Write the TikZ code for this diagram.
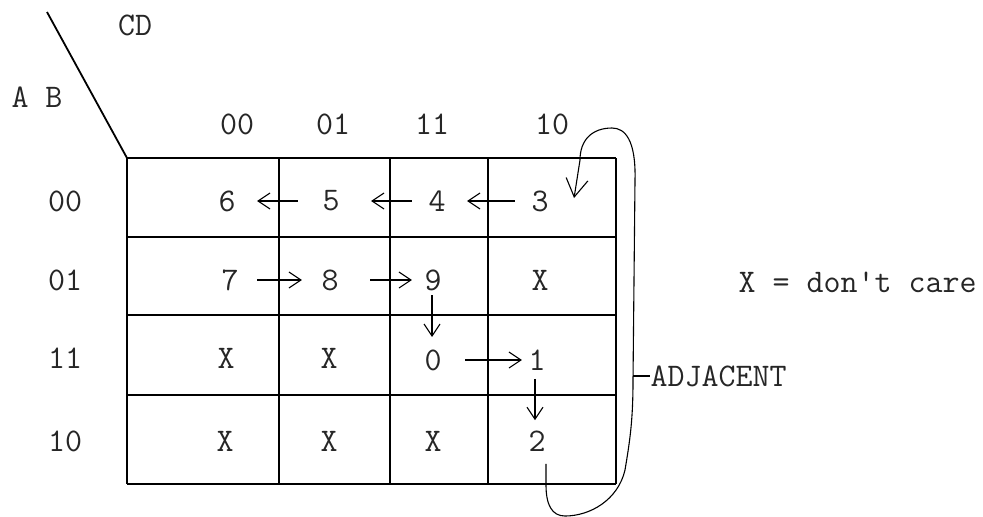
\documentclass[tikz,border=0pt]{standalone}
\usetikzlibrary{arrows.meta}

\begin{document}
\begin{tikzpicture}[x=0.5pt,y=-0.5pt,line width=0.55pt,>={Straight Barb[length=6pt,width=8pt]},
  every node/.style={font=\fontsize{16.5}{18}\selectfont\ttfamily,text=black!85,inner sep=0pt},
  gridline/.style={line width=1pt},
  flow/.style={->,shorten <=9pt,shorten >=10pt},
  drop/.style={->,shorten <=2pt,shorten >=6pt}]
\useasboundingbox (0,0) rectangle (983,516);
% ---- map frame and corner labels ----
\foreach \x in {127,279,390,488,616}{
  \draw[gridline] (\x,158) -- (\x,484);
}
\foreach \y in {158,237,315,395,484}{
  \draw[gridline] (127,\y) -- (616,\y);
}
\coordinate (corner) at (127,158);
\coordinate (slash) at (47,12);
\draw[line width=0.9pt] (slash) -- (corner);
\node (cd) at (135,25) {CD};
\node (ab) at (37,97) {A B};
\foreach \lab/\x in {00/237,01/333,11/432,10/552}{
  \node (c\lab) at (\x,124) {\lab};
}
\foreach \lab/\y in {00/201,01/280,11/358,10/441}{
  \node (r\lab) at (65,\y) {\lab};
}
% ---- cell entries ----
\node (n6) at (227,201) {6};
\node (n5) at (331,201) {5};
\node (n4) at (437,201) {4};
\node (n3) at (540,201) {3};
\node (n7) at (230,280) {7};
\node (n8) at (330,280) {8};
\node (n9) at (433,280) {9};
\node (x1) at (540,280) {X};
\node (x2) at (226,358) {X};
\node (x3) at (329,358) {X};
\node (n0) at (433,360) {0};
\node (n1) at (537,360) {1};
\node (x4) at (225,441) {X};
\node (x5) at (329,441) {X};
\node (x6) at (433,441) {X};
\node (n2) at (537,441) {2};
% ---- counting order ----
\draw[flow,shorten <=8pt,shorten >=10.5pt] (n3) -- (n4);
\draw[flow,shorten <=8pt,shorten >=15.5pt] (n4) -- (n5);
\draw[flow,shorten <=12pt,shorten >=10.5pt] (n5) -- (n6);
\draw[flow,shorten <=9pt,shorten >=9.5pt] (n7) -- (n8);
\draw[flow,shorten <=15.5pt,shorten >=6pt] (n8) -- (n9);
\draw[drop] ([xshift=-0.5pt]n9.south) -- ([xshift=-0.5pt]n0.north);
\draw[flow,shorten <=11.5pt,shorten >=3pt] (n0) -- (n1);
\draw[drop,shorten <=4pt,shorten >=5pt] ([xshift=-1pt]n1.south) -- ([xshift=-1pt]n2.north);
% ---- wrap-around loop ----
\draw[-{Straight Barb[length=9pt,width=11pt]}] ([xshift=4.5pt,yshift=-6pt]n2.south) -- (546,485)
  .. controls (546,505) and (552,516) .. (565,516)
  .. controls (590,516) and (618,500) .. (625,470)
  .. controls (630,440) and (633,420) .. (633,380)
  -- (635,180)
  .. controls (636,140) and (625,128) .. (612,128)
  .. controls (592,128) and (580,140) .. (580,160)
  -- ([xshift=12.5pt,yshift=1.5pt]n3.east);
\coordinate (adjpt) at (633,376);
\node[anchor=west] (adj) at (650,376) {ADJACENT};
\draw[line width=0.8pt] (adjpt) -- (adj.west);
\node[anchor=west] (note) at (738,282) {X = don't care};
\end{tikzpicture}
\end{document}
